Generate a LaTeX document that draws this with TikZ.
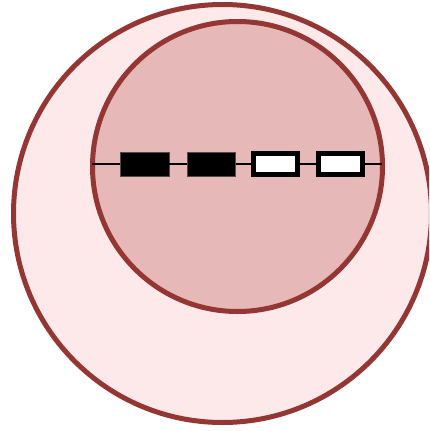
\documentclass[tikz,border=0pt]{standalone}
\definecolor{ringred}{HTML}{943634}
\definecolor{outerfill}{HTML}{FDE9E9}
\definecolor{innerfill}{HTML}{E6B8B7}
\tikzset{
  ring/.style={circle, draw=ringred, line width=5pt, inner sep=0pt, outer sep=0pt},
  blackbox/.style={rectangle, fill=black, draw=black!70, line width=0.4pt, minimum width=48.6pt, minimum height=24.6pt, inner sep=0pt, outer sep=0pt},
  whitebox/.style={rectangle, fill=white, draw=black, line width=5pt, minimum width=44pt, minimum height=20.5pt, inner sep=0pt, outer sep=0pt},
}
\begin{document}
\begin{tikzpicture}[x=1pt,y=-1pt]
\useasboundingbox (0,0) rectangle (429,431);
\clip (0,0) rectangle (429,431);
\node[ring, fill=outerfill, minimum size=418pt] (outer) at (222.5,213.5) {};
\node[ring, fill=innerfill, minimum size=290pt] (inner) at (237.5,166.5) {};
\coordinate (lineL) at (92,164);
\coordinate (lineR) at (382,164);
\node[blackbox] (b1) at (144.6,164) {};
\node[blackbox] (b2) at (211.3,164) {};
\node[whitebox] (w1) at (275.6,164) {};
\node[whitebox] (w2) at (340,164) {};
\draw[line width=1.2pt] (lineL) -- (b1.west);
\draw[line width=1.2pt] (b1.east) -- (b2.west);
\draw[line width=1.2pt] (b2.east) -- (w1.west);
\draw[line width=1.2pt] (w1.east) -- (w2.west);
\draw[line width=1.2pt] (w2.east) -- (lineR);
\end{tikzpicture}
\end{document}
